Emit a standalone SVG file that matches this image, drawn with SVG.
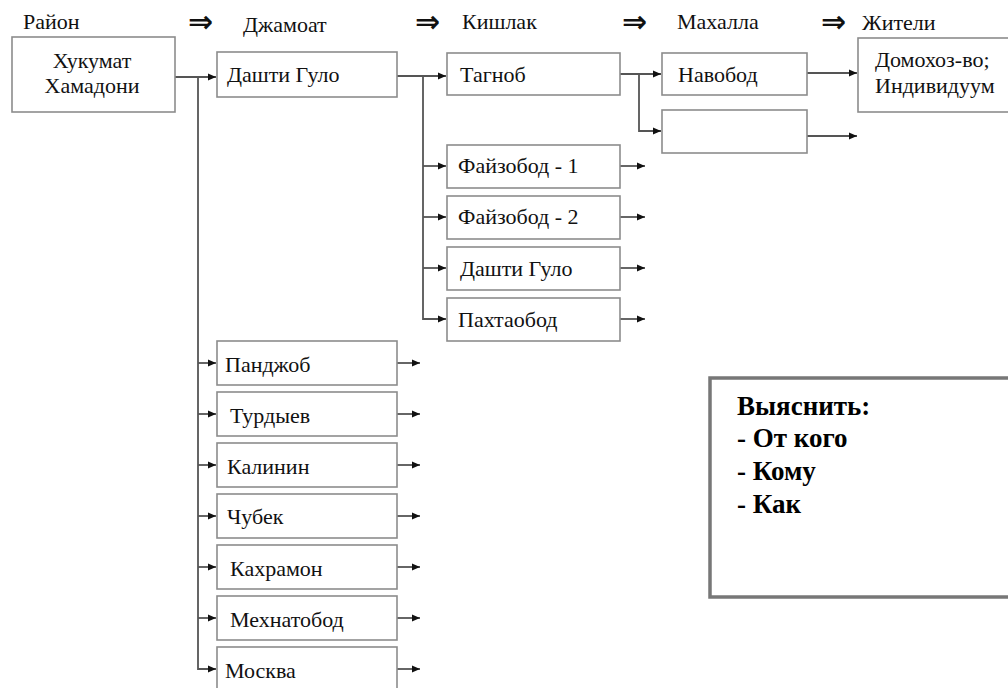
<svg xmlns="http://www.w3.org/2000/svg" width="1008" height="688" viewBox="0 0 1008 688">
<defs>
<style>
.box{fill:#fff;stroke:#8c8c8c;stroke-width:1.6}
.t{font-family:'Liberation Serif','DejaVu Serif',serif;font-size:22px;fill:#111}
.h{font-family:'Liberation Serif','DejaVu Serif',serif;font-size:22px;fill:#111}
.ar{font-family:'DejaVu Sans',sans-serif;font-size:30px;font-weight:bold;fill:#111}
.b{font-family:'Liberation Serif','DejaVu Serif',serif;font-size:27px;font-weight:bold;fill:#000}
.c{fill:none;stroke:#555;stroke-width:1.8}
</style>
<marker id="ah" markerUnits="userSpaceOnUse" markerWidth="9" markerHeight="8" refX="8" refY="4" orient="auto">
<path d="M0,0.5 L8,4 L0,7.5 Z" fill="#111"/>
</marker>
</defs>
<rect width="1008" height="688" fill="#fff"/>

<g id="headers">
<text class="h" x="23" y="29">Район</text>
<text class="ar" x="188" y="32">⇒</text>
<text class="h" x="243" y="32">Джамоат</text>
<text class="ar" x="415" y="32">⇒</text>
<text class="h" x="462" y="29">Кишлак</text>
<text class="ar" x="622" y="32">⇒</text>
<text class="h" x="677" y="29">Махалла</text>
<text class="ar" x="821" y="32">⇒</text>
<text class="h" x="862" y="30">Жители</text>
</g>

<g id="connectors">
<path class="c" d="M175,77 H216" marker-end="url(#ah)"/>
<path class="c" d="M198,77 V669 H216" marker-end="url(#ah)"/>
<path class="c" d="M198,363 H216" marker-end="url(#ah)"/>
<path class="c" d="M198,414 H216" marker-end="url(#ah)"/>
<path class="c" d="M198,465 H216" marker-end="url(#ah)"/>
<path class="c" d="M198,516 H216" marker-end="url(#ah)"/>
<path class="c" d="M198,567 H216" marker-end="url(#ah)"/>
<path class="c" d="M198,618 H216" marker-end="url(#ah)"/>
<path class="c" d="M397,76 H446" marker-end="url(#ah)"/>
<path class="c" d="M423,76 V319 H446" marker-end="url(#ah)"/>
<path class="c" d="M423,166 H446" marker-end="url(#ah)"/>
<path class="c" d="M423,217 H446" marker-end="url(#ah)"/>
<path class="c" d="M423,268 H446" marker-end="url(#ah)"/>
<path class="c" d="M620,74 H661" marker-end="url(#ah)"/>
<path class="c" d="M639,74 V131 H661" marker-end="url(#ah)"/>
<path class="c" d="M807,73 H857" marker-end="url(#ah)"/>
<path class="c" d="M807,136 H857" marker-end="url(#ah)"/>
<path class="c" d="M620,166 H645" marker-end="url(#ah)"/>
<path class="c" d="M620,217 H645" marker-end="url(#ah)"/>
<path class="c" d="M620,268 H645" marker-end="url(#ah)"/>
<path class="c" d="M620,319 H645" marker-end="url(#ah)"/>
<path class="c" d="M397,363 H420" marker-end="url(#ah)"/>
<path class="c" d="M397,414 H420" marker-end="url(#ah)"/>
<path class="c" d="M397,465 H420" marker-end="url(#ah)"/>
<path class="c" d="M397,516 H420" marker-end="url(#ah)"/>
<path class="c" d="M397,567 H420" marker-end="url(#ah)"/>
<path class="c" d="M397,618 H420" marker-end="url(#ah)"/>
<path class="c" d="M397,669 H420" marker-end="url(#ah)"/>
</g>

<g id="n-khukumat"><rect class="box" x="12" y="37" width="163" height="75"/>
<text class="t" x="92" y="68" text-anchor="middle">Хукумат</text>
<text class="t" x="92" y="93" text-anchor="middle">Хамадони</text></g>

<g id="n-dashti-gulo"><rect class="box" x="217" y="52" width="180" height="45"/>
<text class="t" x="227" y="82">Дашти Гуло</text></g>

<g id="n-tagnob"><rect class="box" x="447" y="53" width="173" height="42"/>
<text class="t" x="460" y="82">Тагноб</text></g>
<g id="n-faizobod1"><rect class="box" x="447" y="145" width="173" height="43"/>
<text class="t" x="458" y="173">Файзобод - 1</text></g>
<g id="n-faizobod2"><rect class="box" x="447" y="196" width="173" height="43"/>
<text class="t" x="458" y="224">Файзобод - 2</text></g>
<g id="n-dashti-gulo-k"><rect class="box" x="447" y="247" width="173" height="43"/>
<text class="t" x="460" y="276">Дашти Гуло</text></g>
<g id="n-pakhtaobod"><rect class="box" x="447" y="298" width="173" height="43"/>
<text class="t" x="458" y="327">Пахтаобод</text></g>

<g id="n-navobod"><rect class="box" x="662" y="53" width="145" height="42"/>
<text class="t" x="678" y="82">Навобод</text></g>
<g id="n-empty"><rect class="box" x="662" y="110" width="145" height="43"/></g>

<g id="n-domokhoz"><rect class="box" x="858" y="38" width="160" height="74"/>
<text class="t" x="875" y="67">Домохоз-во;</text>
<text class="t" x="875" y="93">Индивидуум</text></g>

<g id="n-panjob"><rect class="box" x="217" y="341" width="180" height="44"/>
<text class="t" x="225" y="372">Панджоб</text></g>
<g id="n-turdyev"><rect class="box" x="217" y="392" width="180" height="44"/>
<text class="t" x="230" y="423">Турдыев</text></g>
<g id="n-kalinin"><rect class="box" x="217" y="443" width="180" height="44"/>
<text class="t" x="227" y="474">Калинин</text></g>
<g id="n-chubek"><rect class="box" x="217" y="494" width="180" height="44"/>
<text class="t" x="227" y="524">Чубек</text></g>
<g id="n-kakhramon"><rect class="box" x="217" y="545" width="180" height="44"/>
<text class="t" x="230" y="576">Кахрамон</text></g>
<g id="n-mekhnatobod"><rect class="box" x="217" y="596" width="180" height="44"/>
<text class="t" x="230" y="627">Мехнатобод</text></g>
<g id="n-moskva"><rect class="box" x="217" y="647" width="180" height="50"/>
<text class="t" x="225" y="678">Москва</text></g>

<g id="n-note">
<rect x="710" y="378" width="310" height="219" fill="#fff" stroke="#777" stroke-width="3.5"/>
<text class="b" x="737" y="415">Выяснить:</text>
<text class="b" x="737" y="447">- От кого</text>
<text class="b" x="737" y="480">- Кому</text>
<text class="b" x="737" y="513">- Как</text>
</g>
</svg>
